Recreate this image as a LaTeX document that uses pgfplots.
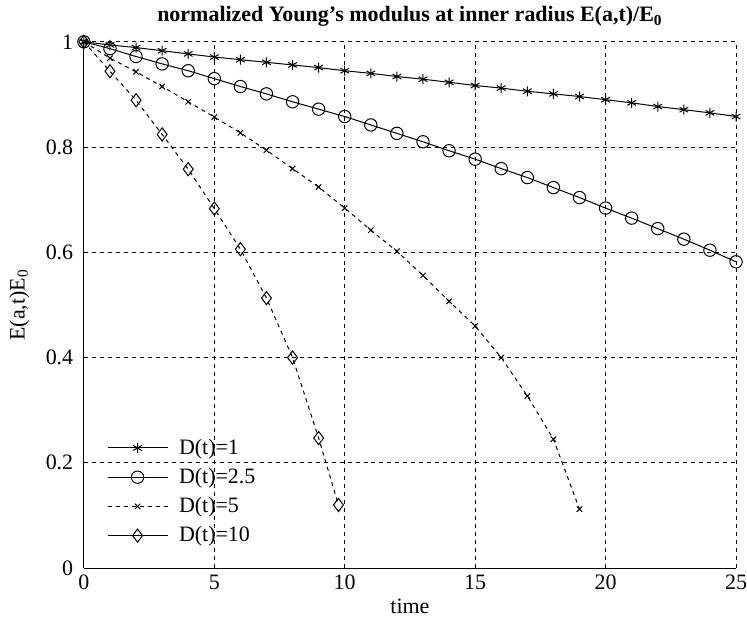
\documentclass[border=0pt]{standalone}
\usepackage{pgfplots}
\pgfplotsset{compat=1.18}
\usepackage{fontspec}
\setmainfont{Liberation Serif}

\begin{document}
\begin{tikzpicture}[font=\fontsize{11}{13}\selectfont]
  \begin{axis}[
      scale only axis,
      width=326.5pt, height=263.5pt,
      xmin=0, xmax=25, ymin=0, ymax=1,
      xtick={0,5,...,25},
      ytick={0,0.2,0.4,0.6,0.8,1},
      axis x line*=bottom,
      axis y line*=left,
      axis line style={-, line width=0.6pt},
      major tick length=0pt,
      grid=major,
      major grid style={black, line width=0.5pt, dash pattern=on 2pt off 2pt},
      /pgf/number format/assume math mode=true,
      tick label style={font=\fontsize{11}{13}\selectfont},
      xticklabel style={inner xsep=0pt},
      yticklabel style={xshift=-1.8pt},
      label style={font=\fontsize{11}{13}\selectfont},
      ylabel style={inner ysep=4.7pt},
      xlabel style={yshift=2.5pt},
      title style={font=\bfseries\fontsize{11}{13}\selectfont, yshift=-2pt},
      title={normalized Young's modulus at inner radius E(a,t)/E\textsubscript{0}},
      xlabel={time},
      ylabel={E(a,t)E\textsubscript{0}},
      clip=false,
      legend cell align=left,
      legend style={draw=none, fill=none, inner sep=0pt,
        at={(0.035,0.036)}, anchor=south west,
        font=\fontsize{11}{13}\selectfont, row sep=1.5pt,
        /tikz/every odd column/.append style={column sep=3.5pt}},
      legend image code/.code={
        \draw[mark repeat=2,mark phase=2] plot coordinates {(0pt,0pt) (15pt,0pt) (30pt,0pt)};
      },
      every axis plot/.append style={black, line width=0.5pt},
    ]
    % D(t)=1
    \addplot[solid, mark=asterisk, mark size=2.5pt, mark options={solid}] coordinates {
      (0,1.000) (1,0.994) (2,0.989) (3,0.983) (4,0.977) (5,0.971)
      (6,0.966) (7,0.961) (8,0.956) (9,0.951) (10,0.945) (11,0.940)
      (12,0.934) (13,0.929) (14,0.923) (15,0.917) (16,0.912) (17,0.906)
      (18,0.901) (19,0.896) (20,0.890) (21,0.884) (22,0.877) (23,0.871)
      (24,0.865) (25,0.858)
    }; \addlegendentry{D(t)=1}

    % D(t)=2.5
    \addplot[solid, mark=o, mark size=3.1pt, mark options={solid}] coordinates {
      (0,1.000) (1,0.987) (2,0.972) (3,0.958) (4,0.945) (5,0.930)
      (6,0.915) (7,0.901) (8,0.886) (9,0.872) (10,0.858) (11,0.842)
      (12,0.826) (13,0.810) (14,0.793) (15,0.777) (16,0.759) (17,0.742)
      (18,0.723) (19,0.704) (20,0.684) (21,0.665) (22,0.645) (23,0.625)
      (24,0.604) (25,0.582)
    }; \addlegendentry{D(t)=2.5}

    % D(t)=5
    \addplot[dash pattern=on 2pt off 2pt, mark=x, mark size=1.9pt, mark options={solid}] coordinates {
      (0,1.000) (1,0.969) (2,0.943) (3,0.915) (4,0.886) (5,0.857)
      (6,0.827) (7,0.794) (8,0.759) (9,0.724) (10,0.684) (11,0.642)
      (12,0.602) (13,0.556) (14,0.507) (15,0.460) (16,0.400) (17,0.327)
      (18,0.245) (19,0.112)
    }; \addlegendentry{D(t)=5}

    % D(t)=10 (legend drawn solid, curve drawn dashed)
    \addlegendimage{solid, black, line width=0.5pt, mark=diamond, mark size=3.3pt, mark options={solid}}
    \addlegendentry{D(t)=10}
    \addplot[forget plot, dash pattern=on 2pt off 2pt, mark=diamond, mark size=3.3pt, mark options={solid}] coordinates {
      (0,1.000) (1,0.944) (2,0.889) (3,0.824) (4,0.758) (5,0.683)
      (6,0.606) (7,0.513) (8,0.400) (9,0.247) (9.76,0.120)
    };
  \end{axis}
\end{tikzpicture}
\end{document}
